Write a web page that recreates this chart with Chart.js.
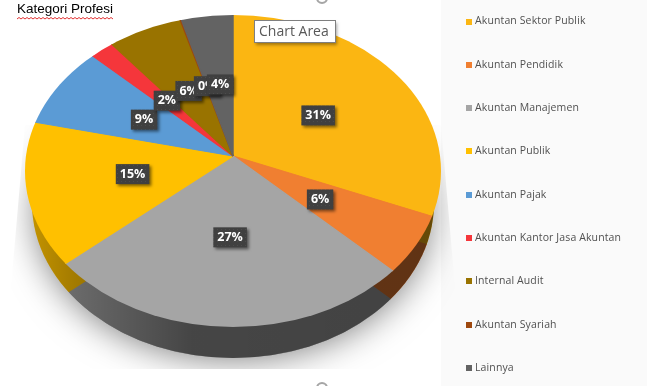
<!DOCTYPE html>
<html lang="id">
<head>
  <meta charset="UTF-8" />
  <title>Kategori Profesi</title>
  <script src="https://cdn.jsdelivr.net/npm/chart.js"></script>
  <style>
    html, body { margin: 0; background: #fff; overflow: hidden; }
    canvas { display: block; }
  </style>
</head>
<body>
  <canvas id="pie" width="647" height="386"></canvas>
  <script>
    const categories = ["Akuntan Sektor Publik", "Akuntan Pendidik", "Akuntan Manajemen", "Akuntan Publik", "Akuntan Pajak", "Akuntan Kantor Jasa Akuntan", "Internal Audit", "Akuntan Syariah", "Lainnya"];
    const percents = [31, 6, 27, 15, 9, 2, 6, 0.1, 4];
    const colors = ["#FBB612", "#F07F31", "#A5A5A5", "#FFC000", "#5B9BD5", "#F5363B", "#997300", "#9E480E", "#636363"];

    // 3D look: the apex sits above the centre of the rim, so each half gets its own squash
    const topRatio = 0.678, bottomRatio = 0.77, cx = 233;
    const face = {apex: 156, cy: 171, rx: 208, ry: 156};
    const wall = {apex: 186, cy: 203, rx: 201, ry: 155};

    function drawLayer(chart, meta, g) {
      const ctx = chart.ctx, arc = meta.data[0];
      [[topRatio, 0, g.apex], [bottomRatio, g.apex, 386]].forEach(([ratio, y0, y1]) => {
        const k = 1.3 * 208 / arc.outerRadius;
        ctx.save();
        ctx.beginPath();
        ctx.ellipse(cx, g.cy, g.rx, g.ry, 0, 0, Math.PI * 2);
        ctx.clip();
        ctx.beginPath();
        ctx.rect(0, y0, 647, y1 - y0);
        ctx.clip();
        ctx.translate(cx, g.apex);
        ctx.scale(k, k * ratio);
        ctx.translate(-arc.x, -arc.y);
        meta.controller.draw();
        ctx.restore();
      });
    }

    const pie3d = {
      id: "pie3d",
      beforeDraw(chart) {
        const ctx = chart.ctx;
        ctx.fillStyle = "#FAFAFA";
        ctx.fillRect(441, 0, 206, 386);
        // soft shadow under the pie, cut off at the bottom
        ctx.save();
        ctx.beginPath();
        ctx.moveTo(25, 125); ctx.lineTo(441, 125); ctx.lineTo(462, 369); ctx.lineTo(4, 369);
        ctx.closePath();
        ctx.clip();
        ctx.shadowColor = "rgba(0,0,0,0.55)";
        ctx.shadowBlur = 36;
        ctx.fillStyle = "#777";
        ctx.beginPath();
        ctx.ellipse(cx, 212, 196, 146, 0, 0, Math.PI * 2);
        ctx.fill();
        ctx.restore();
      },
      beforeDatasetDraw(chart, args) {
        const ctx = chart.ctx;
        drawLayer(chart, args.meta, wall);
        const shade = ctx.createLinearGradient(25, 0, 441, 0);
        shade.addColorStop(0, "rgba(0,0,0,0.22)");
        shade.addColorStop(0.12, "rgba(0,0,0,0.36)");
        shade.addColorStop(0.4, "rgba(0,0,0,0.58)");
        shade.addColorStop(1, "rgba(0,0,0,0.6)");
        ctx.fillStyle = shade;
        ctx.beginPath();
        ctx.ellipse(cx, wall.cy, wall.rx, wall.ry, 0, 0, Math.PI * 2);
        ctx.fill();
        drawLayer(chart, args.meta, face);
        return false;
      },
      afterDatasetsDraw(chart) {
        const ctx = chart.ctx;
        const dots = document.createElement("canvas");
        dots.width = dots.height = 4;
        const d = dots.getContext("2d");
        d.fillStyle = "#404040"; d.fillRect(0, 0, 4, 4);
        d.fillStyle = "#4C4C4C"; d.fillRect(1, 1, 1, 1);
        ctx.font = "bold 12.5px 'Open Sans'";
        ctx.textAlign = "center";
        ctx.textBaseline = "middle";
        chart.getDatasetMeta(0).data.forEach((arc, i) => {
          const mid = (arc.startAngle + arc.endAngle) / 2;
          const sin = Math.sin(mid);
          const x = cx + Math.cos(mid) * 103;
          const y = face.apex + sin * 103 * (sin < 0 ? 0.7 : 0.79);
          const text = Math.round(percents[i]) + "%";
          const w = ctx.measureText(text).width + 8;
          ctx.save();
          ctx.shadowColor = "rgba(0,0,0,0.5)";
          ctx.shadowBlur = 3;
          ctx.shadowOffsetX = 2;
          ctx.shadowOffsetY = 2;
          ctx.fillStyle = ctx.createPattern(dots, "repeat");
          ctx.fillRect(x - w / 2, y - 10, w, 20);
          ctx.restore();
          ctx.fillStyle = "#fff";
          ctx.fillText(text, x, y);
        });
      },
      afterDraw(chart) {
        const ctx = chart.ctx;
        // legend column
        ctx.font = "10.5px 'Open Sans'";
        ctx.letterSpacing = "0.12px";
        ctx.textAlign = "left";
        ctx.textBaseline = "middle";
        categories.forEach((name, i) => {
          const y = 21.5 + i * 43.3;
          ctx.fillStyle = colors[i];
          ctx.fillRect(466, Math.round(y - 3), 6, 6);
          ctx.fillStyle = "#505050";
          ctx.fillText(name, 475, y);
        });
        ctx.letterSpacing = "0px";

        // spell-check squiggle under the title
        ctx.strokeStyle = "#E03030";
        ctx.lineWidth = 1;
        ctx.beginPath();
        for (let x = 17; x <= 113; x += 2) ctx.lineTo(x, 17.5 + (x % 4 === 1 ? 1.5 : 0));
        ctx.stroke();

        // selection tip and handles left over from the editor
        ctx.save();
        ctx.shadowColor = "rgba(0,0,0,0.35)";
        ctx.shadowBlur = 3;
        ctx.shadowOffsetX = 2;
        ctx.shadowOffsetY = 2;
        ctx.fillStyle = "#fff";
        ctx.fillRect(254, 21, 81, 22);
        ctx.restore();
        ctx.strokeStyle = "#7F7F7F";
        ctx.strokeRect(254.5, 20.5, 81, 22);
        ctx.font = "14px 'Open Sans'";
        ctx.fillStyle = "#595959";
        ctx.fillText("Chart Area", 259, 32);
        ctx.strokeStyle = "#A5A5A5";
        ctx.lineWidth = 2;
        [-2, 388].forEach(y => {
          ctx.beginPath();
          ctx.arc(322, y, 5, 0, Math.PI * 2);
          ctx.stroke();
        });
      }
    };

    new Chart(document.getElementById("pie"), {
      type: "pie",
      data: {
        labels: categories,
        datasets: [{data: percents, backgroundColor: colors, borderColor: colors, borderWidth: 1}]
      },
      options: {
        responsive: false,
        animation: false,
        layout: {padding: {left: 17, top: 1}},
        plugins: {
          legend: {display: false},
          tooltip: {enabled: false},
          title: {
            display: true,
            text: "Kategori Profesi",
            align: "start",
            color: "#000",
            font: {family: "'Liberation Sans'", size: 13.5, weight: "normal"},
            padding: {top: 0, bottom: 0}
          }
        }
      },
      plugins: [pie3d]
    });
  </script>
</body>
</html>
